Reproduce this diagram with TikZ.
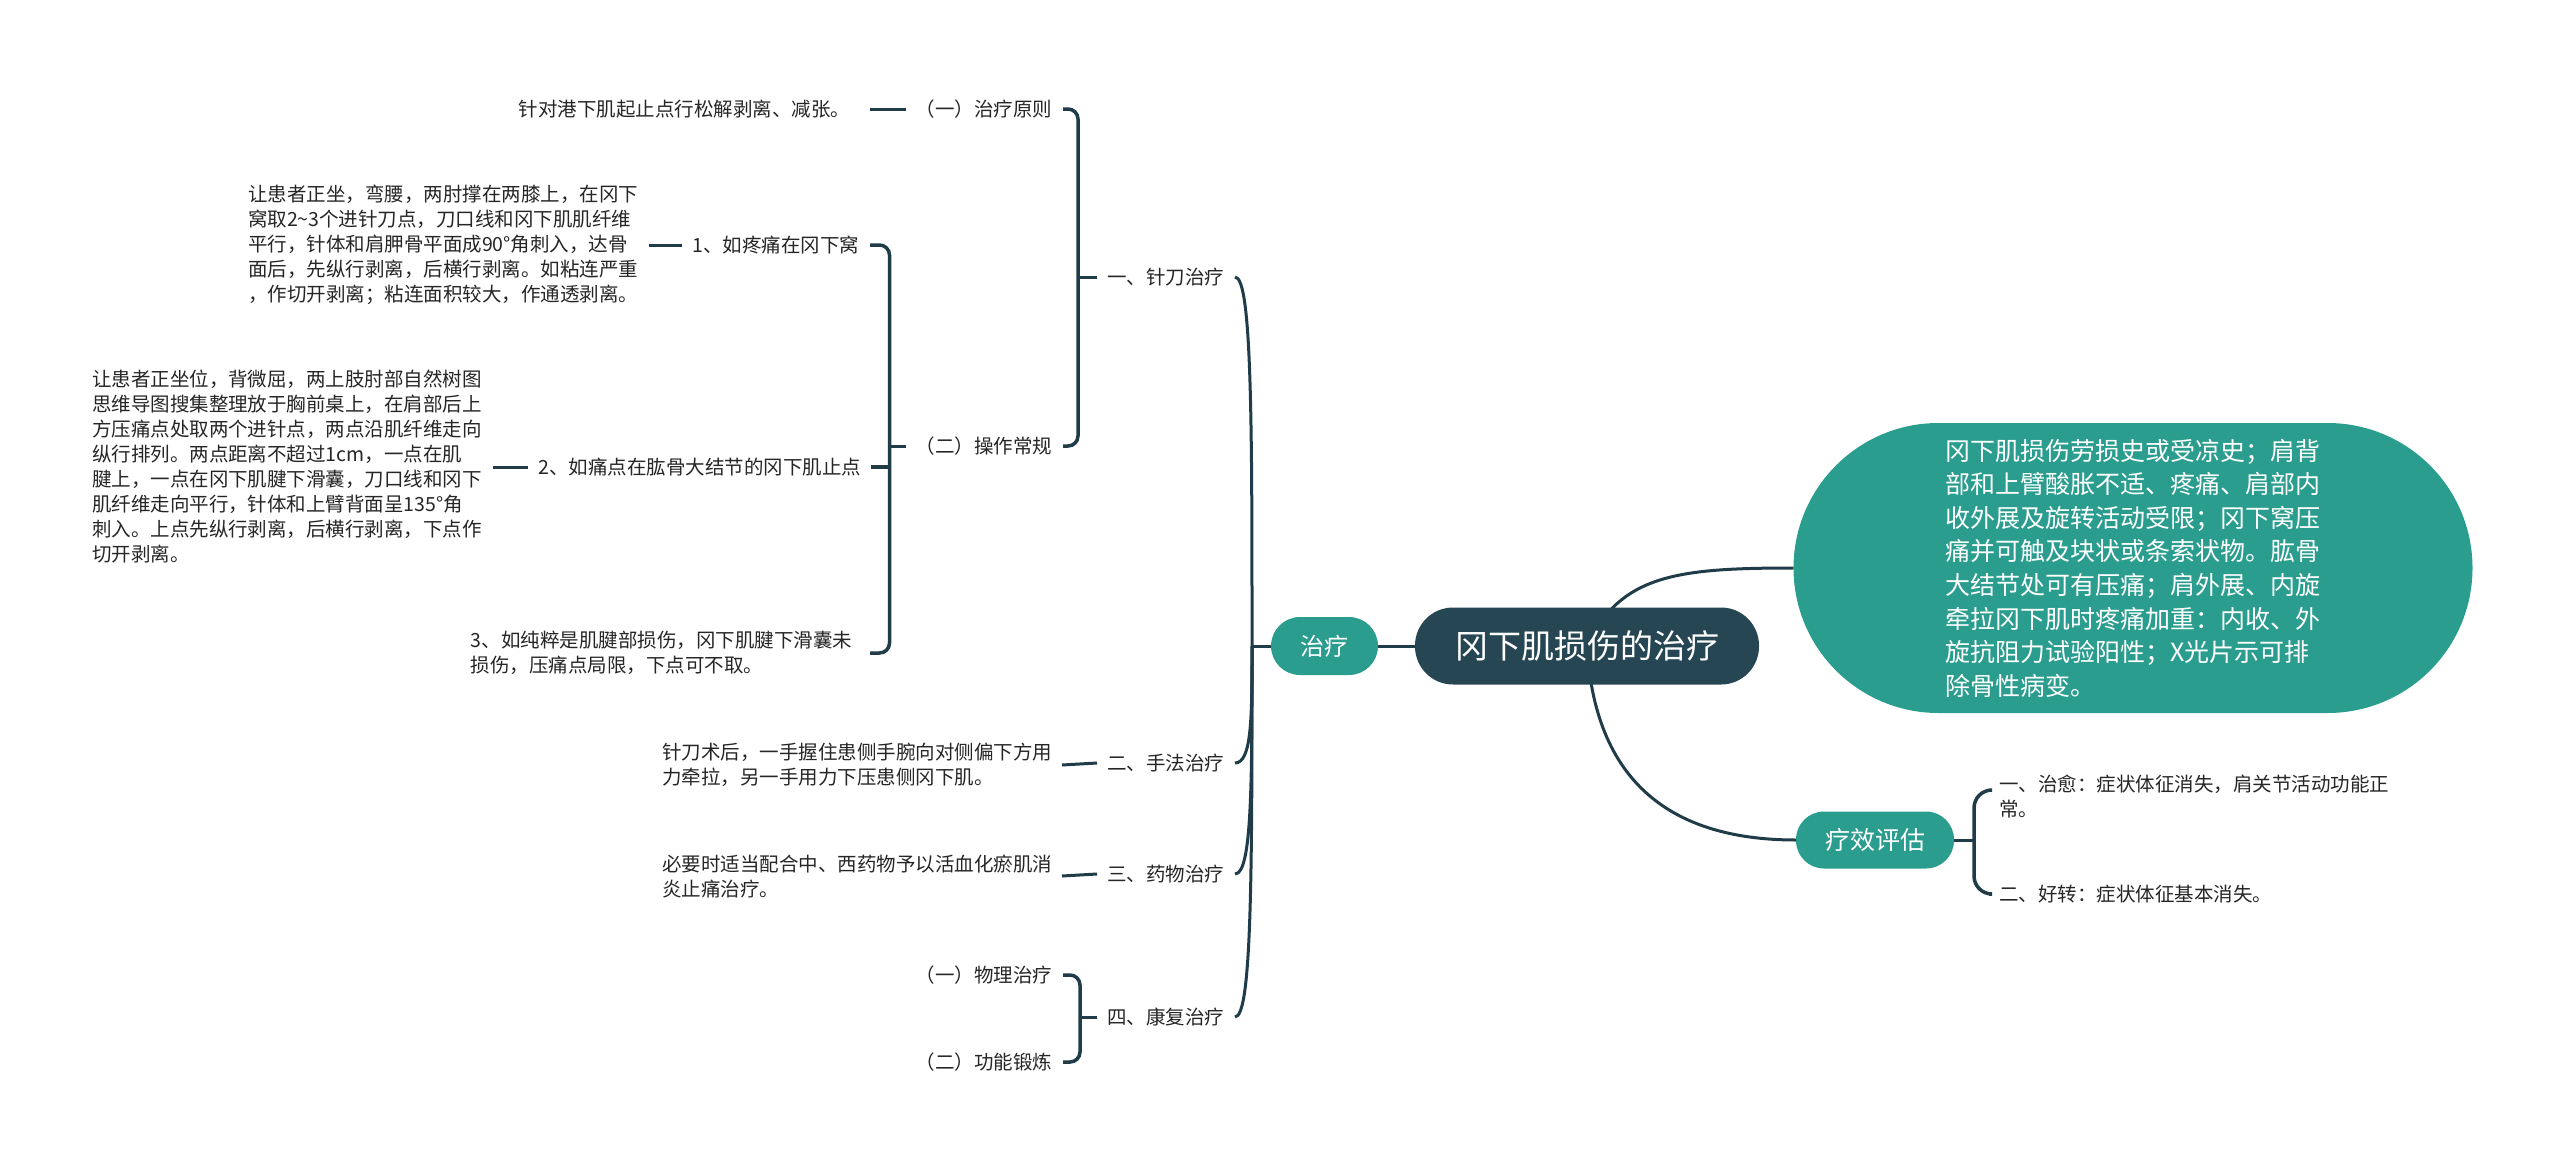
\documentclass[tikz,border=0pt]{standalone}
\usepackage{fontspec}
\setmainfont{Noto Sans CJK SC}
\definecolor{tealA}{HTML}{2A9D8F}
\definecolor{navyA}{HTML}{264653}
\definecolor{lnc}{HTML}{1F3C48}
\definecolor{txt}{HTML}{262626}
\pgfdeclarelayer{bg}
\pgfsetlayers{bg,main}
\newcommand{\fsA}{\fontsize{19.5}{25}\selectfont}
\begin{document}
\begin{tikzpicture}[x=1pt,y=-1pt,
  lbl/.style={inner sep=0pt,outer sep=0pt,font=\fsA,text=txt,anchor=east},
  blk/.style={inner sep=0pt,outer sep=0pt,font=\fsA,text=txt,align=left},
  conn/.style={draw=lnc,line width=3pt},
  brk/.style={draw=lnc,line width=3.5pt,rounded corners=10pt},
  pill/.style={fill=tealA,text=white,inner sep=0pt,outer sep=0pt}]
\useasboundingbox (0,0) rectangle (2560,1165);

% central nodes
\node[fill=navyA,text=white,inner sep=0pt,minimum width=344pt,minimum height=77pt,rounded corners=38pt,font=\fontsize{33}{40}\selectfont] (root) at (1587,646) {冈下肌损伤的治疗};
\node[pill,minimum width=107pt,minimum height=58pt,rounded corners=29pt,font=\fontsize{24}{30}\selectfont] (zl) at (1324.5,646) {治疗};
\node[pill,minimum width=158pt,minimum height=57pt,rounded corners=28pt,font=\fontsize{25}{30}\selectfont] (lx) at (1875,840) {疗效评估};
\node[pill,minimum width=679pt,minimum height=290pt,rounded corners=145pt,align=left,font=\fontsize{25}{33.6}\selectfont] (big) at (2133,568) {冈下肌损伤劳损史或受凉史；肩背\\部和上臂酸胀不适、疼痛、肩部内\\收外展及旋转活动受限；冈下窝压\\痛并可触及块状或条索状物。肱骨\\大结节处可有压痛；肩外展、内旋\\牵拉冈下肌时疼痛加重：内收、外\\旋抗阻力试验阳性；X光片示可排\\除骨性病变。};

% level 1 of treatment
\node[lbl] (zdzl) at (1224,277) {一、针刀治疗};
\node[lbl] (sfzl) at (1224,763) {二、手法治疗};
\node[lbl] (ywzl) at (1224,874) {三、药物治疗};
\node[lbl] (kfzl) at (1224,1017) {四、康复治疗};

% under zhendao
\node[lbl] (zlyz) at (1052,109) {（一）治疗原则};
\node[lbl] (czcg) at (1052,446) {（二）操作常规};
\node[lbl] (zdtx) at (850,109) {针对港下肌起止点行松解剥离、减张。};

\node[lbl] (r1) at (859,245) {1、如疼痛在冈下窝};
\node[lbl] (r2) at (861,467) {2、如痛点在肱骨大结节的冈下肌止点};
\node[blk,anchor=east] (r3) at (852,653) {3、如纯粹是肌腱部损伤，冈下肌腱下滑囊未\\损伤，压痛点局限，下点可不取。};

\node[blk,anchor=east] (t1) at (638,245) {让患者正坐，弯腰，两肘撑在两膝上，在冈下\\窝取2\textasciitilde3个进针刀点，刀口线和冈下肌肌纤维\\平行，针体和肩胛骨平面成90°角刺入，达骨\\面后，先纵行剥离，后横行剥离。如粘连严重\\，作切开剥离；粘连面积较大，作通透剥离。};
\node[blk,anchor=east] (t2) at (482,467) {让患者正坐位，背微屈，两上肢肘部自然树图\\思维导图搜集整理放于胸前桌上，在肩部后上\\方压痛点处取两个进针点，两点沿肌纤维走向\\纵行排列。两点距离不超过1cm，一点在肌\\腱上，一点在冈下肌腱下滑囊，刀口线和冈下\\肌纤维走向平行，针体和上臂背面呈135°角\\刺入。上点先纵行剥离，后横行剥离，下点作\\切开剥离。};

\node[blk,anchor=east] (t4) at (1052,765) {针刀术后，一手握住患侧手腕向对侧偏下方用\\力牵拉，另一手用力下压患侧冈下肌。};
\node[blk,anchor=east] (t5) at (1052,876) {必要时适当配合中、西药物予以活血化瘀肌消\\炎止痛治疗。};

\node[lbl] (wl) at (1052,975) {（一）物理治疗};
\node[lbl] (gn) at (1052,1062) {（二）功能锻炼};

% evaluation
\node[blk,anchor=west] (zy) at (1999,796) {一、治愈：症状体征消失，肩关节活动功能正\\常。};
\node[blk,anchor=west] (hz) at (1999,894) {二、好转：症状体征基本消失。};

% coordinates
\coordinate (tj) at ([xshift=-19pt]zl.west);
\coordinate (v1) at ([xshift=-29pt]zdzl.west);
\coordinate (v2) at ([xshift=-26pt]czcg.west);
\coordinate (v3) at ([xshift=-27pt]kfzl.west);
\coordinate (v4) at ([xshift=20pt]lx.east);

\begin{pgfonlayer}{bg}
\fill[white] (0,0) rectangle (2560,1165);
% root connectors
\draw[conn] (zl.east) -- (root.west);
\draw[conn] (root.center) .. controls +(33,-71) and +(-117,0) .. (big.west);
\draw[conn] (root.center) .. controls +(8,144) and +(-116,0) .. (lx.west);
\end{pgfonlayer}

% trunk of treatment
\draw[conn] (zl.west) -- (tj);
\draw[conn] (tj) .. controls +(0,-221) and +(17,0) .. ([xshift=11pt]zdzl.east);
\draw[conn] (tj) .. controls +(0,70) and +(17,0) .. ([xshift=11pt]sfzl.east);
\draw[conn] (tj) .. controls +(0,137) and +(17,0) .. ([xshift=11pt]ywzl.east);
\draw[conn] (tj) .. controls +(0,223) and +(17,0) .. ([xshift=11pt]kfzl.east);

% bracket zhendao
\draw[brk] ([xshift=11pt]zlyz.east) -| (v1) |- ([xshift=11pt]czcg.east);
\draw[conn] (v1) -- ([xshift=-10pt]zdzl.west);
\draw[conn] ([xshift=20pt]zdtx.east) -- ([xshift=-10pt]zlyz.west);

% bracket caozuo
\draw[brk] ([xshift=11pt]r1.east) -| (v2) |- ([xshift=18pt]r3.east);
\draw[brk] ([xshift=10pt]r2.east) -- (v2 |- r2.east);
\draw[conn] (v2) -- ([xshift=-10pt]czcg.west);
\draw[conn] ([xshift=11pt]t1.east) -- ([xshift=-10pt]r1.west);
\draw[conn] ([xshift=11pt]t2.east) -- ([xshift=-10pt]r2.west);

% shoufa / yaowu
\draw[conn] ([xshift=10pt]t4.east) -- ([xshift=-10pt]sfzl.west);
\draw[conn] ([xshift=10pt]t5.east) -- ([xshift=-10pt]ywzl.west);

% bracket kangfu
\draw[brk] ([xshift=11pt]wl.east) -| (v3) |- ([xshift=11pt]gn.east);
\draw[conn] (v3) -- ([xshift=-10pt]kfzl.west);

% bracket evaluation
\draw[conn] (lx.east) -- (v4);
\draw[brk,rounded corners=18pt] ([xshift=-10pt,yshift=6pt]zy.west) -| (v4) |- ([xshift=-10pt]hz.west);
\end{tikzpicture}
\end{document}
